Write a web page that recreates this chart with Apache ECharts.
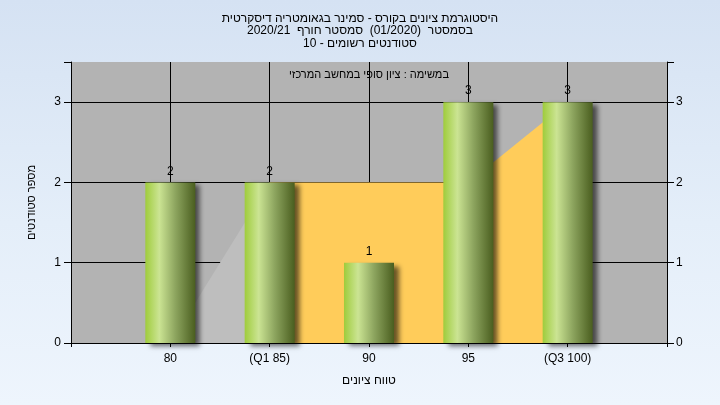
<!DOCTYPE html>
<html>
<head>
<meta charset="utf-8">
<script src="https://cdn.jsdelivr.net/npm/echarts@6/dist/echarts.min.js"></script>
<style>
html,body{margin:0;padding:0;}
#chart{width:720px;height:405px;background:linear-gradient(to bottom,#D5E2F3 0%,#E4EEF9 55%,#EEF5FD 100%);}
</style>
</head>
<body>
<div id="chart"></div>
<script>
// Data
const grades = [80, 85, 90, 95, 100];
const gradeLabels = ['80', '(Q1 85)', '90', '95', '(Q3 100)'];
const counts = [2, 2, 1, 3, 3];
const grayAreaX = [80, 85];
const grayAreaY = [0, 2];
const quartileAreaX = [85, 90, 95, 100];
const quartileAreaY = [2, 2, 2, 3];
const yTicks = [0, 1, 2, 3];

const titleLines = [
  'היסטוגרמת ציונים בקורס - סמינר בגאומטריה דיסקרטית',
  'בסמסטר  (01/2020)  סמסטר חורף  2020/21',
  'סטודנטים רשומים - 10'
];
const subTitle = 'במשימה : ציון סופי במחשב המרכזי';
const xName = 'טווח ציונים';
const yName = 'מספר סטודנטים';

const FONT = '"Liberation Sans", Arial, "DejaVu Sans", sans-serif';
const labelMap = {};
grades.forEach((g, i) => { labelMap[g] = gradeLabels[i]; });

const chart = echarts.init(document.getElementById('chart'), null, {renderer: 'canvas'});

const barGradient = new echarts.graphic.LinearGradient(0, 0, 1, 0, [
  {offset: 0, color: '#9FCC3C'},
  {offset: 0.28, color: '#CBE493'},
  {offset: 0.6, color: '#8DA55F'},
  {offset: 1, color: '#4A5E1F'}
]);

const axisTextStyle = {color: '#000', fontFamily: FONT, fontSize: 12};

const option = {
  backgroundColor: 'transparent',
  animation: false,
  title: {
    text: titleLines.join('\n'),
    left: 'center',
    top: 7,
    textStyle: {color: '#000', fontFamily: FONT, fontSize: 12, fontWeight: 'normal', lineHeight: 12.5}
  },
  graphic: [{
    type: 'text',
    x: 369,
    y: 75,
    style: {text: subTitle, fill: '#000', font: '11px ' + FONT, textAlign: 'center', textVerticalAlign: 'middle'},
    z: 100
  }],
  grid: {left: 71, right: 53, top: 62, bottom: 62, show: true, backgroundColor: '#B3B3B3', borderWidth: 0},
  xAxis: {
    type: 'value',
    min: 75, max: 105, interval: 5,
    name: xName,
    nameLocation: 'middle',
    nameGap: 32,
    nameTextStyle: {color: '#000', fontFamily: FONT, fontSize: 12},
    axisLine: {show: true, lineStyle: {color: '#000', width: 1}},
    axisTick: {show: true, length: 4, lineStyle: {color: '#000'}},
    axisLabel: Object.assign({margin: 10, formatter: v => labelMap[v] || '', showMinLabel: true, showMaxLabel: true}, axisTextStyle),
    splitLine: {show: true, showMinLine: false, showMaxLine: false, lineStyle: {color: '#000', width: 1}}
  },
  yAxis: [{
    type: 'value',
    min: 0, max: 3.5, interval: 1,
    position: 'left',
    name: yName,
    nameLocation: 'middle',
    nameGap: 34,
    nameRotate: 90,
    nameTextStyle: {color: '#000', fontFamily: FONT, fontSize: 11},
    axisLine: {show: true, lineStyle: {color: '#000', width: 1}},
    axisTick: {show: true, length: 7, lineStyle: {color: '#000'}},
    axisLabel: Object.assign({margin: 10, formatter: v => (yTicks.indexOf(v) >= 0 ? String(v) : '')}, axisTextStyle),
    splitLine: {show: true, showMinLine: false, showMaxLine: false, lineStyle: {color: '#000', width: 1}}
  }, {
    type: 'value',
    min: 0, max: 3.5, interval: 1,
    position: 'right',
    axisLine: {show: true, lineStyle: {color: '#000', width: 1}},
    axisTick: {show: true, length: 7, lineStyle: {color: '#000'}},
    axisLabel: Object.assign({margin: 9, formatter: v => (yTicks.indexOf(v) >= 0 ? String(v) : '')}, axisTextStyle),
    splitLine: {show: false}
  }],
  series: [{
    type: 'line',
    data: grayAreaX.map((x, i) => [x, grayAreaY[i]]),
    symbol: 'none',
    lineStyle: {width: 0, opacity: 0},
    areaStyle: {color: '#BEBEBE', opacity: 1},
    z: 1,
    silent: true
  }, {
    type: 'line',
    data: quartileAreaX.map((x, i) => [x, quartileAreaY[i]]),
    symbol: 'none',
    lineStyle: {width: 0, opacity: 0},
    areaStyle: {color: '#FFCC5A', opacity: 1},
    z: 2,
    silent: true
  }, {
    type: 'bar',
    data: grades.map((g, i) => [g, counts[i]]),
    barWidth: 50,
    itemStyle: {
      color: barGradient,
      shadowColor: 'rgba(0,0,0,0.6)',
      shadowBlur: 5,
      shadowOffsetX: 5,
      shadowOffsetY: 3
    },
    label: {show: true, position: 'top', distance: 5, color: '#000', fontFamily: FONT, fontSize: 12},
    z: 3
  }]
};
chart.setOption(option);
</script>
</body>
</html>
